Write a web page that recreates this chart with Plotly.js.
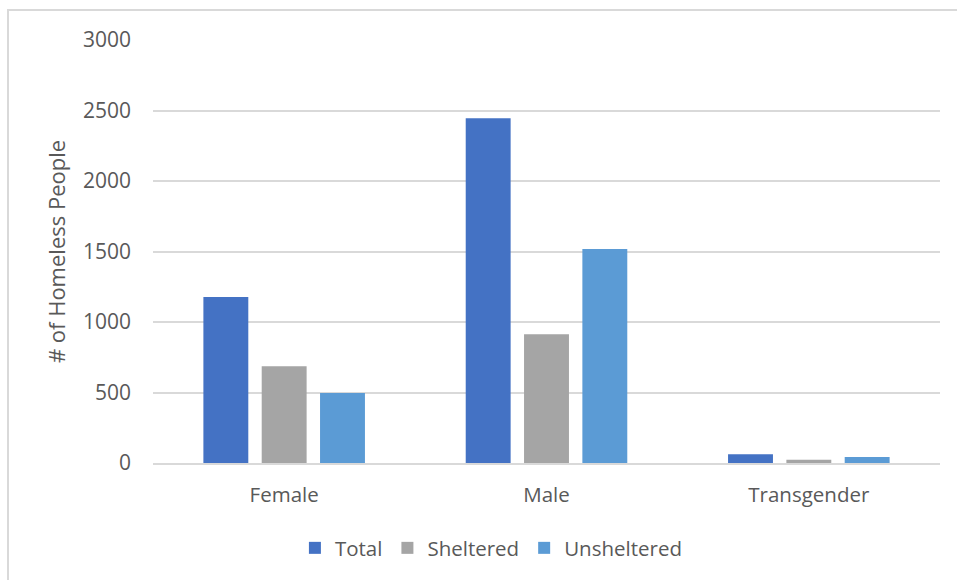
<!DOCTYPE html>
<html>
<head>
<meta charset="utf-8">
<script src="https://cdn.plot.ly/plotly-3.0.1.min.js"></script>
<style>
  html, body { margin: 0; padding: 0; background: #fff; }
  #wrap { position: relative; width: 957px; height: 580px; }
  #chart { width: 957px; height: 580px; }
  #frame { position: absolute; left: 7px; top: 9px; right: -5px; bottom: -5px;
           border-top: 2px solid #d9d9d9; border-left: 2px solid #d9d9d9; pointer-events: none; }
</style>
</head>
<body>
<div id="wrap">
  <div id="chart"></div>
  <div id="frame"></div>
</div>
<script>
const categories = ["Female", "Male", "Transgender"];
const seriesNames = ["Total", "Sheltered", "Unsheltered"];
const totalValues = [1177, 2445, 62];
const shelteredValues = [686, 913, 23];
const unshelteredValues = [496, 1518, 43];
const seriesColors = ["#4472c4", "#a5a5a5", "#5b9bd5"];
const yTicks = [0, 500, 1000, 1500, 2000, 2500, 3000];

const allValues = [totalValues, shelteredValues, unshelteredValues];
const traces = seriesNames.map((name, i) => ({
  type: "bar",
  name: name,
  x: categories,
  y: allValues[i],
  marker: { color: seriesColors[i] },
  hoverinfo: "x+y+name"
}));

const font = { family: "'Open Sans', sans-serif", color: "#595959" };

const layout = {
  width: 957,
  height: 580,
  margin: { l: 153, r: 17, t: 40, b: 117 },
  paper_bgcolor: "#ffffff",
  plot_bgcolor: "#ffffff",
  barmode: "group",
  bargap: 0.333,
  bargroupgap: 0.23,
  font: Object.assign({ size: 18 }, font),
  showlegend: true,
  legend: {
    orientation: "h",
    x: 0.43, xanchor: "center",
    y: -0.201, yanchor: "middle",
    font: Object.assign({ size: 20.5 }, font),
    itemwidth: 30,
    traceorder: "normal"
  },
  xaxis: {
    type: "category",
    showgrid: false,
    showline: true,
    linecolor: "#d9d9d9",
    linewidth: 2,
    ticks: "",
    tickfont: Object.assign({ size: 20.5 }, font),
    ticklabelstandoff: 12
  },
  yaxis: {
    range: [0, 3000],
    tickvals: yTicks,
    ticktext: yTicks.map(String),
    showgrid: true,
    gridcolor: "#d9d9d9",
    gridwidth: 2,
    zeroline: false,
    showline: false,
    ticks: "",
    tickfont: Object.assign({ size: 21 }, font),
    ticklabelstandoff: 21,
    title: { text: "# of Homeless People", font: Object.assign({ size: 22 }, font), standoff: 11 }
  }
};

Plotly.newPlot("chart", traces, layout, { displayModeBar: false, staticPlot: true });
</script>
</body>
</html>
